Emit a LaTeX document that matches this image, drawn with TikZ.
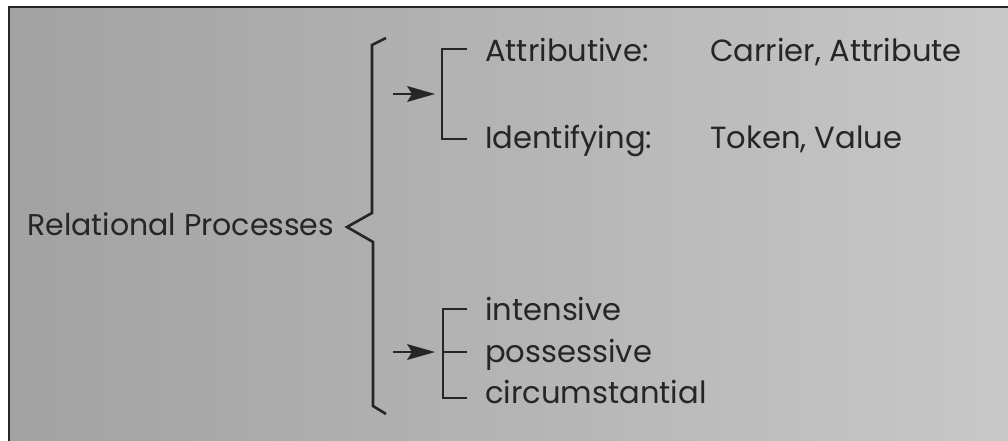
\documentclass[tikz,border=0pt]{standalone}
\usepackage{fontspec}
\setmainfont{Poppins}
\definecolor{bgdark}{HTML}{A2A2A2}
\definecolor{bgmid}{HTML}{B4B4B4}
\definecolor{bglight}{HTML}{C8C8C8}
\definecolor{ink}{HTML}{262626}
\tikzset{
  lbl/.style={anchor=base west, inner sep=0pt, text=ink, font=\fontsize{30.6}{30.6}\selectfont},
  brk/.style={draw=ink, line width=2.6pt},
  shaft/.style={draw=ink, line width=2.6pt},
  headfill/.style={fill=ink},
}
\begin{document}
\begin{tikzpicture}[x=1pt,y=-1pt]
\useasboundingbox (0,0) rectangle (1008,441);
\fill[white] (0,0) rectangle (1008,441);
\shade[left color=bgdark, right color=bglight, middle color=bgmid] (9,7) rectangle (1008,441);
\draw[ink, line width=2.2pt] (9,441) -- (9,7) -- (1008,7);

% labels
\node[lbl, font=\fontsize{30}{30}\selectfont] (rp) at (27,235) {Relational Processes};
\node[lbl] (attr) at (485,62) {Attributive:};
\node[lbl] (ca) at (710,62) {Carrier, Attribute};
\node[lbl] (ident) at (485,148) {Identifying:};
\node[lbl] (tv) at (710,148) {Token, Value};
\node[lbl] (int) at (485,320) {intensive};
\node[lbl] (pos) at (485,362) {possessive};
\node[lbl] (circ) at (485,403) {circumstantial};

% big brace
\coordinate (bt) at (386,38);
\coordinate (bb) at (386,414);
\coordinate (tip) at (347,227);
\draw[brk, line join=miter] (bt) -- (372,45) -- (372,213) -- (tip) -- (373,242) -- (373,406) -- (bb);

% upper bracket
\coordinate (u1) at (467,49);
\coordinate (u2) at (467,139);
\draw[brk] (u1) -- (442,49) -- (442,139) -- (u2);
\coordinate (ua0) at (393,94);
\coordinate (ua1) at (435,94);
\draw[shaft] (ua0) -- (412,94);
\fill[headfill] (ua1) -- (407,86) -- (412,94) -- (407,102) -- cycle;

% lower bracket
\coordinate (l1) at (467,309);
\coordinate (l2) at (467,352);
\coordinate (l3) at (467,398);
\draw[brk] (l1) -- (443,309) -- (443,398) -- (l3);
\draw[brk] (443,352) -- (l2);
\coordinate (la0) at (393,352);
\coordinate (la1) at (435,352);
\draw[shaft] (la0) -- (412,352);
\fill[headfill] (la1) -- (407,344) -- (412,352) -- (407,360) -- cycle;
\end{tikzpicture}
\end{document}
